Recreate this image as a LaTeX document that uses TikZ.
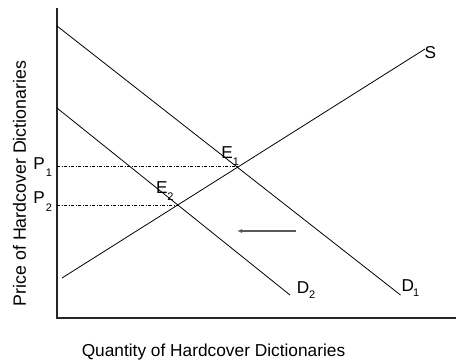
\documentclass[tikz,border=0pt]{standalone}
\usepackage{fontspec}
\setmainfont{Liberation Sans}
\usetikzlibrary{arrows.meta}
% #1 = drop below the baseline, #2 = extra kern, #3 = subscript text
\newcommand\mysub[3]{\kern#2\raisebox{-#1}{\fontsize{11}{12}\selectfont #3}}
\begin{document}
\begin{tikzpicture}[x=1pt,y=-1pt,
  curve/.style={line width=0.8pt,black},
  axisline/.style={line width=1.1pt,black!85},
  guide/.style={line width=0.6pt,dash pattern=on 3pt off 1.5pt on 1pt off 1.5pt},
  lbl/.style={inner sep=0pt,anchor=base west,font=\fontsize{17.2}{19}\selectfont},
  axlbl/.style={inner sep=0pt,font=\fontsize{17.3}{20}\selectfont}]
\useasboundingbox (0,0) rectangle (456,362);
% axes
\coordinate (o) at (57,318);
\coordinate (ytop) at (57,7.5);
\coordinate (xend) at (456,318);
\draw[axisline] (ytop) -- (o) -- (xend);
% curves
\coordinate (d1a) at (57,26);
\coordinate (d1b) at (400.5,295);
\coordinate (d2a) at (57,108);
\coordinate (d2b) at (290,295);
\coordinate (sa) at (62,278);
\coordinate (sb) at (425,49);
\draw[curve] (d1a) -- (d1b);
\draw[curve] (d2a) -- (d2b);
\draw[curve] (sa) -- (sb);
% equilibria
\coordinate (e1) at (237,166.5);
\coordinate (e2) at (178,205.5);
\coordinate (p1) at (57,166.5);
\coordinate (p2) at (57,205.5);
\draw[guide] (p1) -- (e1);
\draw[guide] (p2) -- (e2);
% shift arrow
\coordinate (arrA) at (296,231);
\coordinate (arrB) at (237,231);
\draw[line width=1.1pt,black!65,-{Latex[length=5pt,width=4pt]}] (arrA) -- (arrB);
% labels
\node[lbl] (lS) at (424.5,58.3) {S};
\node[lbl] (lD1) at (401.5,291) {D\mysub{5.7pt}{-1pt}{1}};
\node[lbl] (lD2) at (296.6,293.3) {D\mysub{5pt}{0pt}{2}};
\node[lbl] (lE1) at (221.2,158.3) {E\mysub{6.7pt}{0pt}{1}};
\node[lbl] (lE2) at (155.8,193.3) {E\mysub{6.7pt}{0pt}{2}};
\node[lbl] (lP1) at (33.2,169) {P\mysub{7.7pt}{1pt}{1}};
\node[lbl] (lP2) at (33.2,203.3) {P\mysub{8.4pt}{1pt}{2}};
\node[axlbl,anchor=base] (xl) at (213.5,356) {Quantity of Hardcover Dictionaries};
\node[axlbl,anchor=base,rotate=90,font=\fontsize{17.8}{20}\selectfont] (yl) at (26,183.5) {Price of Hardcover Dictionaries};
\end{tikzpicture}
\end{document}
